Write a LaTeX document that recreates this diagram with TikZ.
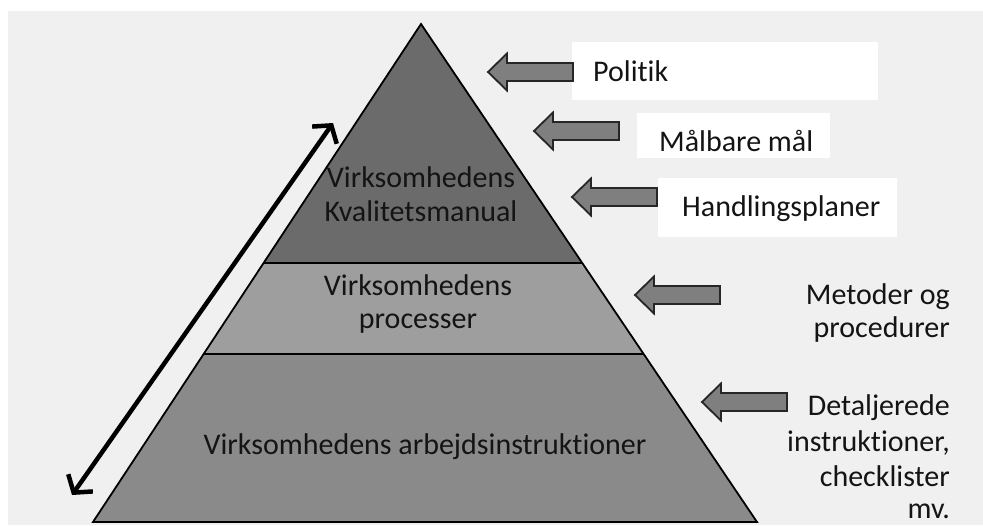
\documentclass[tikz,border=0pt]{standalone}
\usepackage{fontspec}
\setmainfont{Carlito}[Ligatures={NoCommon}]
\usetikzlibrary{arrows.meta,calc}
\definecolor{bgc}{HTML}{F0F0F0}
\definecolor{topc}{HTML}{6B6B6B}
\definecolor{midc}{HTML}{9E9E9E}
\definecolor{botc}{HTML}{8A8A8A}
\definecolor{arrc}{HTML}{7F7F7F}
\definecolor{txt}{HTML}{141414}
\begin{document}
\begin{tikzpicture}[x=1pt,y=-1pt,
  lbl/.style={font=\fontsize{30}{35}\selectfont, text=txt, inner sep=0pt},
  layer/.style={draw=black, line width=1.8pt, line join=miter},
  blk/.style={draw=black!85, fill=arrc, line width=1.8pt, line join=miter},
  wbox/.style={fill=white, draw=none, inner sep=0pt},
  blockarrow/.pic={\draw[blk] (0,0) -- (19,-18.5) -- (19,-9) -- (85,-9) -- (85,9) -- (19,9) -- (19,18.5) -- cycle;}]
\useasboundingbox (0,0) rectangle (983,525);
\fill[white] (0,0) rectangle (983,525);
\fill[bgc] (8,11) rectangle (983,525);

% pyramid
\coordinate (apex) at (421,24);
\coordinate (bl) at (93,522);
\coordinate (br) at (757,522);
\coordinate (l1) at ($(apex)!0.480!(bl)$);
\coordinate (r1) at ($(apex)!0.480!(br)$);
\coordinate (l2) at ($(apex)!0.663!(bl)$);
\coordinate (r2) at ($(apex)!0.663!(br)$);
\fill[botc] (l2) -- (r2) -- (br) -- (bl) -- cycle;
\fill[midc] (l1) -- (r1) -- (r2) -- (l2) -- cycle;
\fill[topc] (apex) -- (r1) -- (l1) -- cycle;
\draw[layer] (apex) -- (br) -- (bl) -- cycle;
\draw[layer] (l1) -- (r1);
\draw[layer] (l2) -- (r2);

% pyramid texts
\node[lbl, anchor=base] (t1a) at (421,187) {Virksomhedens};
\node[lbl, anchor=base] (t1b) at (421,221) {Kvalitetsmanual};
\node[lbl, anchor=base] (t2a) at (418,295) {Virksomhedens};
\node[lbl, anchor=base] (t2b) at (418,328) {processer};
\node[lbl, anchor=base] (t3) at (425,454) {Virksomhedens arbejdsinstruktioner};

% double arrow
\coordinate (da1) at (72,495);
\coordinate (da2) at (333,123);
\draw[line width=4.5pt, {Straight Barb[length=12pt,width=30pt]}-{Straight Barb[length=12pt,width=30pt]}] (da1) -- (da2);

% white boxes and labels
\node[wbox, anchor=north west, minimum width=306pt, minimum height=58pt] (bpol) at (572,42) {};
\node[wbox, anchor=north west, minimum width=193pt, minimum height=45pt] (bmaal) at (637,113) {};
\node[wbox, anchor=north west, minimum width=239pt, minimum height=59pt] (bhand) at (658,178) {};
\node[lbl, anchor=base west] (tpol) at (593,81) {Politik};
\node[lbl, anchor=base west] (tmaal) at (659,151) {Målbare mål};
\node[lbl, anchor=base west] (thand) at (682,216) {Handlingsplaner};
\node[lbl, anchor=base east] (tmet1) at (950,304) {Metoder og};
\node[lbl, anchor=base east] (tmet2) at (950,337) {procedurer};
\node[lbl, anchor=base east] (tdet1) at (950,415) {Detaljerede};
\node[lbl, anchor=base east] (tdet2) at (950,451) {instruktioner,};
\node[lbl, anchor=base east] (tdet3) at (950,486) {checklister};
\node[lbl, anchor=base east] (tdet4) at (950,518) {mv.};

% block arrows
\pic at (488,72) {blockarrow};
\pic at (534,131) {blockarrow};
\pic at (572,197) {blockarrow};
\pic at (635,295) {blockarrow};
\pic at (702,402) {blockarrow};
\end{tikzpicture}
\end{document}
